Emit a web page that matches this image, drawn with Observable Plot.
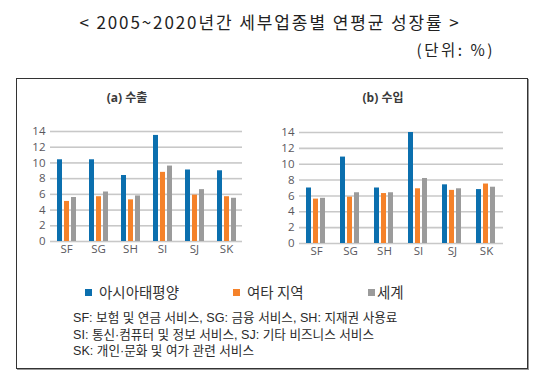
<!DOCTYPE html>
<html>
<head>
<meta charset="utf-8">
<script src="https://cdn.jsdelivr.net/npm/d3@7"></script>
<script src="https://cdn.jsdelivr.net/npm/@observablehq/plot@0.6"></script>
<style>
  html, body { margin: 0; padding: 0; background: #fff; }
  #root { position: relative; width: 555px; height: 389px; background: #fff; overflow: hidden;
          font-family: "Noto Sans CJK KR", "Noto Sans", sans-serif; }
  .abs { position: absolute; white-space: nowrap; line-height: 1.15; }
  #title { left: 0; width: 540px; top: 12px; text-align: center; font-size: 17px; color: #222; letter-spacing: 1.9px; }
  #unit { right: 60px; top: 41px; font-size: 15.5px; color: #222; letter-spacing: 2.5px; }
  #box { left: 16px; top: 78px; width: 510px; height: 289px; border: 1.5px solid #333; box-shadow: 1px 1px 0 #999; }
  .ptitle { font-family: "Open Sans", "Noto Sans CJK KR", sans-serif; font-weight: bold; font-size: 12px; color: #3a3a3a; transform: translateX(-50%); }
  .leg { font-size: 14.5px; color: #333; display: flex; align-items: center; }
  .sw { display: inline-block; width: 7px; height: 7px; margin-right: 7px; }
  .note { left: 73px; font-family: "Liberation Sans", "Noto Sans CJK KR", sans-serif; font-size: 12.6px; color: #2a2a2a; line-height: 1.1; }
</style>
</head>
<body>
<div id="root">
  <div id="title" class="abs"></div>
  <div id="unit" class="abs"></div>
  <div id="box" class="abs"></div>
</div>
<script>
const categories = ["SF", "SG", "SH", "SI", "SJ", "SK"];
const series = ["아시아태평양", "여타 지역", "세계"];
const colors = ["#0b6fae", "#f5822a", "#9b9b9b"];
const yTicks = [0, 2, 4, 6, 8, 10, 12, 14];

// (a) 수출 — export growth (%)
const exportAsia  = [10.4, 10.4, 8.4, 13.5, 9.1, 9.0];
const exportOther = [5.1, 5.7, 5.3, 8.8, 5.9, 5.7];
const exportWorld = [5.6, 6.3, 5.8, 9.6, 6.6, 5.5];

// (b) 수입 — import growth (%)
const importAsia  = [7.0, 10.9, 7.0, 14.0, 7.4, 6.8];
const importOther = [5.6, 5.85, 6.3, 6.9, 6.7, 7.5];
const importWorld = [5.7, 6.4, 6.4, 8.2, 6.9, 7.1];

const titleText = "< 2005~2020년간 세부업종별 연평균 성장률 >";
const unitText = "(단위: %)";
const panelTitles = ["(a) 수출", "(b) 수입"];
const notes = [
  "SF: 보험 및 연금 서비스, SG: 금융 서비스, SH: 지재권 사용료",
  "SI: 통신·컴퓨터 및 정보 서비스, SJ: 기타 비즈니스 서비스",
  "SK: 개인·문화 및 여가 관련 서비스"
];

const root = document.getElementById("root");
document.getElementById("title").textContent = titleText;
document.getElementById("unit").textContent = unitText;

function toRows(arrs) {
  const rows = [];
  categories.forEach((c, i) => series.forEach((s, j) => rows.push({cat: c, series: s, value: arrs[j][i]})));
  return rows;
}

function panel(arrs, o) {
  const data = toRows(arrs);
  const chart = Plot.plot({
    width: o.width, height: o.height,
    marginLeft: o.ml, marginRight: 0, marginTop: o.mt, marginBottom: o.mb,
    facet: {data, x: "cat"},
    fx: {domain: categories, padding: 0, label: null, tickSize: 0, tickPadding: 3, axis: "bottom"},
    x: {domain: series, axis: null, paddingInner: o.pi, paddingOuter: o.po},
    y: {domain: [0, 14], ticks: yTicks, tickSize: 0, tickPadding: 5, label: null},
    color: {domain: series, range: colors},
    style: {fontFamily: "'Open Sans', 'Noto Sans', sans-serif", fontSize: "11.5px", color: "#59575d", background: "transparent", overflow: "visible"},
    marks: [
      Plot.ruleY(yTicks, {stroke: "#c8c8c8", strokeWidth: 1.6}),
      Plot.barY(data, {x: "series", y: "value", fill: "series"})
    ]
  });
  chart.style.position = "absolute";
  chart.style.left = o.left + "px";
  chart.style.top = o.top + "px";
  root.appendChild(chart);
}

panel([exportAsia, exportOther, exportWorld], {left: 20, top: 120, width: 222, height: 143, ml: 30, mt: 11, mb: 22, pi: 0.35, po: 0.96});
panel([importAsia, importOther, importWorld], {left: 270, top: 120, width: 233, height: 145, ml: 29, mt: 12, mb: 22, pi: 0.27, po: 0.9});

[[127, panelTitles[0]], [383, panelTitles[1]]].forEach(([x, t]) => {
  const d = document.createElement("div");
  d.className = "abs ptitle";
  d.style.left = x + "px"; d.style.top = "91px";
  d.textContent = t;
  root.appendChild(d);
});

const legX = [85, 233, 368];
series.forEach((s, i) => {
  const d = document.createElement("div");
  d.className = "abs leg";
  d.style.left = legX[i] + "px"; d.style.top = "284px";
  const sw = document.createElement("span");
  sw.className = "sw"; sw.style.background = colors[i];
  if (i === 2) sw.style.marginRight = "2px";
  d.appendChild(sw);
  d.appendChild(document.createTextNode(s));
  root.appendChild(d);
});

notes.forEach((t, i) => {
  const d = document.createElement("div");
  d.className = "abs note";
  d.style.top = (312 + i * 16.5) + "px";
  d.textContent = t;
  root.appendChild(d);
});
</script>
</body>
</html>
